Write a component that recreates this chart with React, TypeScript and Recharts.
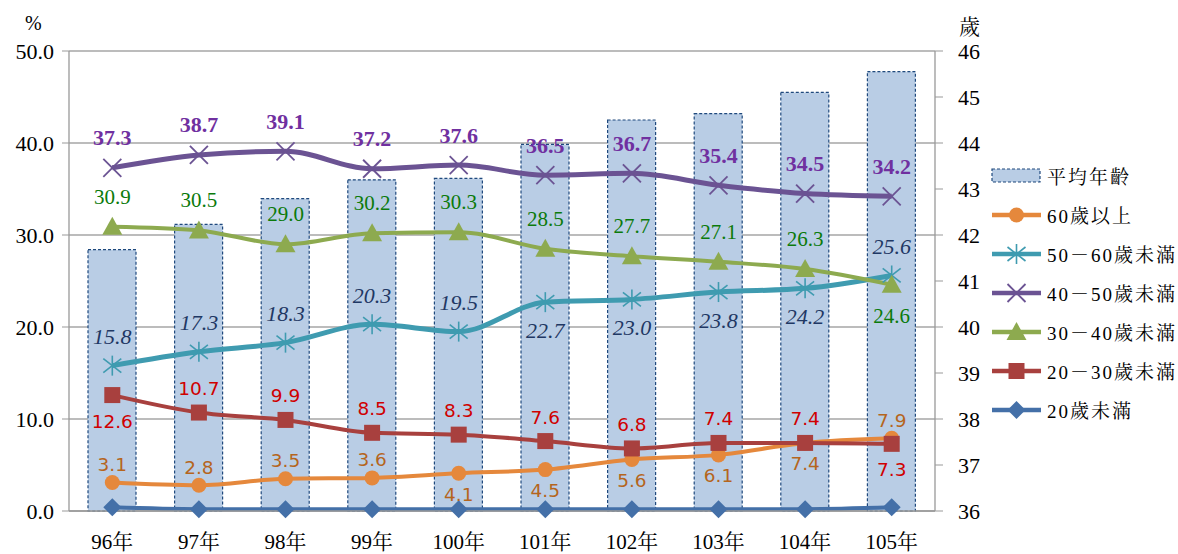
import React from "react"
import { ComposedChart, Bar, Line, XAxis, YAxis, CartesianGrid, LabelList } from "recharts"

const years = ["96年", "97年", "98年", "99年", "100年", "101年", "102年", "103年", "104年", "105年"]
const avgAge = [41.68, 42.23, 42.79, 43.2, 43.23, 43.97, 44.5, 44.64, 45.1, 45.55]
const age60plus = [3.1, 2.8, 3.5, 3.6, 4.1, 4.5, 5.6, 6.1, 7.4, 7.9]
const age50to60 = [15.8, 17.3, 18.3, 20.3, 19.5, 22.7, 23.0, 23.8, 24.2, 25.6]
const age40to50 = [37.3, 38.7, 39.1, 37.2, 37.6, 36.5, 36.7, 35.4, 34.5, 34.2]
const age30to40 = [30.9, 30.5, 29.0, 30.2, 30.3, 28.5, 27.7, 27.1, 26.3, 24.6]
const age20to30 = [12.6, 10.7, 9.9, 8.5, 8.3, 7.6, 6.8, 7.4, 7.4, 7.3]
const under20 = [0.4, 0.2, 0.2, 0.2, 0.2, 0.2, 0.2, 0.2, 0.2, 0.4]

const leftTicks = [0, 10, 20, 30, 40, 50]
const rightTicks = [36, 37, 38, 39, 40, 41, 42, 43, 44, 45, 46]
const boundTicks = [0, 1, 2, 3, 4, 5, 6, 7, 8, 9, 10]

const data = years.map((year, i) => ({
  year,
  avg: avgAge[i],
  s60: age60plus[i],
  s50: age50to60[i],
  s40: age40to50[i],
  s30: age30to40[i],
  s20: age20to30[i],
  s0: under20[i],
}))

const SERIF = "'Liberation Serif', 'Noto Serif CJK TC', 'Times New Roman', serif"
const SANS = "'DejaVu Sans', 'Liberation Sans', sans-serif"

const COLORS = {
  bar: "#B9CDE5",
  barEdge: "#1F497D",
  s60: "#E5883C",
  s50: "#3F9BB0",
  s40: "#6B5393",
  s30: "#8DAA4F",
  s20: "#A8403E",
  s0: "#4470A8",
}

const W = 1178
const H = 554

function marker(kind: string, cx: number, cy: number, color: string, key?: string) {
  if (cx == null || cy == null) return null
  switch (kind) {
    case "circle":
      return <circle key={key} cx={cx} cy={cy} r={7.5} fill={color} />
    case "star":
      return (
        <g key={key} stroke={color} strokeWidth={1.6}>
          <line x1={cx} y1={cy - 10} x2={cx} y2={cy + 10} />
          <line x1={cx - 9} y1={cy - 7} x2={cx + 9} y2={cy + 7} />
          <line x1={cx - 9} y1={cy + 7} x2={cx + 9} y2={cy - 7} />
        </g>
      )
    case "cross":
      return (
        <g key={key} stroke={color} strokeWidth={1.8}>
          <line x1={cx - 9} y1={cy - 9} x2={cx + 9} y2={cy + 9} />
          <line x1={cx - 9} y1={cy + 9} x2={cx + 9} y2={cy - 9} />
        </g>
      )
    case "triangle":
      return <polygon key={key} points={`${cx},${cy - 10} ${cx + 10},${cy + 8} ${cx - 10},${cy + 8}`} fill={color} />
    case "square":
      return <rect key={key} x={cx - 8} y={cy - 8} width={16} height={16} fill={color} />
    case "diamond":
      return <polygon key={key} points={`${cx},${cy - 9} ${cx + 9},${cy} ${cx},${cy + 9} ${cx - 9},${cy}`} fill={color} />
    default:
      return null
  }
}

const dotOf = (kind: string, color: string) => (p: any) => marker(kind, p.cx, p.cy, color, `${kind}-${p.index}`)

type LabelCfg = {
  color: string
  font: string
  size: number
  weight?: string
  italic?: boolean
  above: number
  below: number
  belowIdx: number[]
}

const labelOf = (cfg: LabelCfg) => (props: any) => {
  const { x, y, value, index } = props
  const isBelow = cfg.belowIdx.includes(index)
  return (
    <text
      key={`lbl-${index}`}
      x={x}
      y={y + (isBelow ? cfg.below : -cfg.above)}
      textAnchor="middle"
      dominantBaseline="central"
      fill={cfg.color}
      fontFamily={cfg.font}
      fontSize={cfg.size}
      fontWeight={cfg.weight || "normal"}
      fontStyle={cfg.italic ? "italic" : "normal"}
    >
      {Number(value).toFixed(1)}
    </text>
  )
}

const LeftTick = (props: any) => (
  <text x={props.x} y={props.y} textAnchor="end" dominantBaseline="central" fontFamily={SERIF} fontSize={22} fill="#000">
    {Number(props.payload.value).toFixed(1)}
  </text>
)

const RightTick = (props: any) => (
  <text x={props.x} y={props.y} textAnchor="start" dominantBaseline="central" fontFamily={SERIF} fontSize={22} fill="#000">
    {props.payload.value}
  </text>
)

const CatTick = (props: any) => (
  <text x={props.x} y={props.y} dy="0.75em" textAnchor="middle" fontFamily={SERIF} fontSize={21} fill="#000">
    {props.payload.value}
  </text>
)

const legendItems = [
  { name: "平均年齡", kind: "bar", color: COLORS.bar },
  { name: "60歲以上", kind: "circle", color: COLORS.s60 },
  { name: "50－60歲未滿", kind: "star", color: COLORS.s50 },
  { name: "40－50歲未滿", kind: "cross", color: COLORS.s40 },
  { name: "30－40歲未滿", kind: "triangle", color: COLORS.s30 },
  { name: "20－30歲未滿", kind: "square", color: COLORS.s20 },
  { name: "20歲未滿", kind: "diamond", color: COLORS.s0 },
]

function ChartLegend() {
  return (
    <div style={{ position: "absolute", left: 990, top: 156 }}>
      {legendItems.map((item) => (
        <div key={item.name} style={{ display: "flex", alignItems: "center", height: 39, whiteSpace: "nowrap" }}>
          <svg width={54} height={24}>
            {item.kind === "bar" ? (
              <rect x={2} y={5} width={48} height={13} fill={COLORS.bar} stroke={COLORS.barEdge} strokeDasharray="3 2" strokeWidth={1.2} />
            ) : (
              <g>
                <line x1={2} y1={12} x2={51} y2={12} stroke={item.color} strokeWidth={4.5} />
                {marker(item.kind, 26.5, 12, item.color)}
              </g>
            )}
          </svg>
          <span style={{ fontFamily: SERIF, fontSize: 19, letterSpacing: 2, marginLeft: 3, color: "#000" }}>{item.name}</span>
        </div>
      ))}
    </div>
  )
}

export default function App() {
  return (
    <div style={{ position: "fixed", left: 0, top: 0, width: W, height: H, background: "#fff" }}>
      <ComposedChart width={W} height={H} data={data} margin={{ top: 51, right: 183, bottom: 5, left: 14 }}>
        <CartesianGrid xAxisId="cat" yAxisId="left" vertical={false} stroke="#A6A6A6" strokeWidth={1.3} />
        <XAxis
          xAxisId="bounds"
          type="number"
          domain={[0, 10]}
          ticks={boundTicks}
          allowDataOverflow
          height={0}
          tick={false}
          axisLine={false}
          tickLine={{ stroke: "#999" }}
          tickSize={7}
        />
        <XAxis
          xAxisId="cat"
          dataKey="year"
          height={38}
          tick={<CatTick />}
          tickLine={false}
          tickSize={0}
          tickMargin={22}
          axisLine={{ stroke: "#999", strokeWidth: 1.3 }}
        />
        <YAxis
          yAxisId="left"
          width={55}
          domain={[0, 50]}
          ticks={leftTicks}
          tick={<LeftTick />}
          tickSize={7}
          tickMargin={8}
          axisLine={{ stroke: "#999", strokeWidth: 1.3 }}
          tickLine={{ stroke: "#999" }}
        />
        <YAxis
          yAxisId="right"
          orientation="right"
          width={60}
          domain={[36, 46]}
          ticks={rightTicks}
          tick={<RightTick />}
          tickSize={8}
          tickMargin={15}
          axisLine={{ stroke: "#999", strokeWidth: 1.3 }}
          tickLine={{ stroke: "#999" }}
        />
        <Bar
          xAxisId="cat"
          yAxisId="right"
          dataKey="avg"
          barSize={48}
          fill={COLORS.bar}
          stroke={COLORS.barEdge}
          strokeWidth={1.2}
          strokeDasharray="3 2"
          isAnimationActive={false}
        />
        <Line xAxisId="cat" yAxisId="left" type="monotone" dataKey="s60" stroke={COLORS.s60} strokeWidth={4} dot={dotOf("circle", COLORS.s60)} activeDot={false} isAnimationActive={false}>
          <LabelList dataKey="s60" content={labelOf({ color: "#B5651D", font: SANS, size: 18.5, above: 18, below: 21, belowIdx: [4, 5, 6, 7, 8] })} />
        </Line>
        <Line xAxisId="cat" yAxisId="left" type="monotone" dataKey="s50" stroke={COLORS.s50} strokeWidth={5} dot={dotOf("star", COLORS.s50)} activeDot={false} isAnimationActive={false}>
          <LabelList dataKey="s50" content={labelOf({ color: "#1F3864", font: SERIF, size: 22, italic: true, above: 29, below: 28, belowIdx: [5, 6, 7, 8] })} />
        </Line>
        <Line xAxisId="cat" yAxisId="left" type="monotone" dataKey="s40" stroke={COLORS.s40} strokeWidth={5} dot={dotOf("cross", COLORS.s40)} activeDot={false} isAnimationActive={false}>
          <LabelList dataKey="s40" content={labelOf({ color: "#7030A0", font: SERIF, size: 22, weight: "bold", above: 30, below: 30, belowIdx: [] })} />
        </Line>
        <Line xAxisId="cat" yAxisId="left" type="monotone" dataKey="s30" stroke={COLORS.s30} strokeWidth={4} dot={dotOf("triangle", COLORS.s30)} activeDot={false} isAnimationActive={false}>
          <LabelList dataKey="s30" content={labelOf({ color: "#0B7A0B", font: SERIF, size: 21, above: 30, below: 31, belowIdx: [9] })} />
        </Line>
        <Line xAxisId="cat" yAxisId="left" type="monotone" dataKey="s20" stroke={COLORS.s20} strokeWidth={4} dot={dotOf("square", COLORS.s20)} activeDot={false} isAnimationActive={false}>
          <LabelList dataKey="s20" content={labelOf({ color: "#D00000", font: SANS, size: 18.5, above: 24, below: 26, belowIdx: [0, 9] })} />
        </Line>
        <Line xAxisId="cat" yAxisId="left" type="monotone" dataKey="s0" stroke={COLORS.s0} strokeWidth={4} dot={dotOf("diamond", COLORS.s0)} activeDot={false} isAnimationActive={false} />
      </ComposedChart>
      <div style={{ position: "absolute", left: 25, top: 12, fontFamily: SERIF, fontSize: 20 }}>%</div>
      <div style={{ position: "absolute", left: 959, top: 10, fontFamily: SERIF, fontSize: 21 }}>歲</div>
      <ChartLegend />
    </div>
  )
}
